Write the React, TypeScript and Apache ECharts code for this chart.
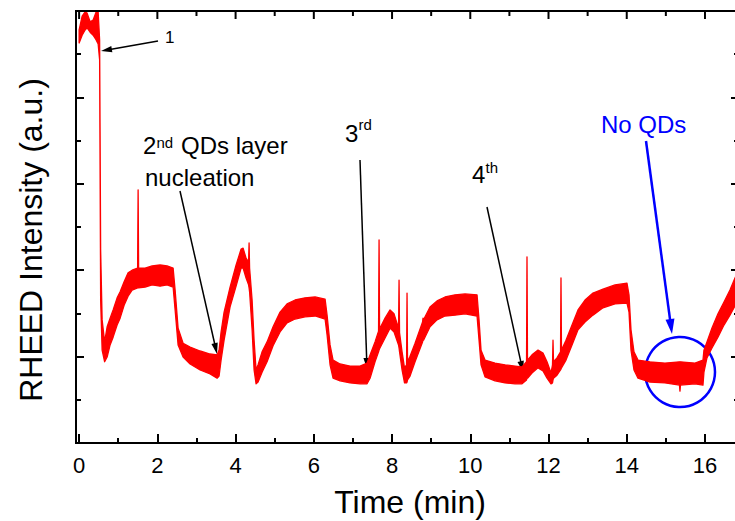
import React, { useEffect, useRef } from "react";
import * as echarts from "echarts";

// Time (min)
const time = [
  0, 0.077, 0.153, 0.204, 0.281, 0.358, 0.435, 0.486, 0.524, 0.55,
  0.588, 0.652, 0.716, 0.792, 0.869, 0.971, 1.048, 1.15, 1.252, 1.355,
  1.495, 1.508, 1.521, 1.687, 1.866, 2.07, 2.249, 2.403, 2.454, 2.53,
  2.658, 2.837, 3.093, 3.348, 3.527, 3.578, 3.629, 3.706, 3.859, 4.013,
  4.141, 4.192, 4.268, 4.332, 4.345, 4.358, 4.422, 4.473, 4.524, 4.575,
  4.677, 4.805, 4.958, 5.137, 5.316, 5.521, 5.776, 6.032, 6.288, 6.339,
  6.415, 6.492, 6.671, 6.927, 7.182, 7.361, 7.438, 7.565, 7.655, 7.668,
  7.681, 7.821, 7.949, 8.051, 8.166, 8.179, 8.192, 8.256, 8.319, 8.371,
  8.383, 8.396, 8.46, 8.588, 8.78, 8.792, 8.805, 8.971, 9.15, 9.355,
  9.61, 9.866, 10.173, 10.224, 10.275, 10.377, 10.633, 10.888, 11.144, 11.323,
  11.438, 11.45, 11.463, 11.578, 11.732, 11.859, 11.962, 12.064, 12.102, 12.115,
  12.128, 12.217, 12.307, 12.319, 12.332, 12.447, 12.601, 12.754, 12.933, 13.137,
  13.393, 13.7, 14.006, 14.058, 14.109, 14.185, 14.288, 14.594, 14.978, 15.348,
  15.361, 15.374, 15.744, 15.949, 15.974, 16.051, 16.179, 16.332, 16.486, 16.639,
  16.767, 16.869,
];

// RHEED intensity (a.u.), upper edge of the noisy trace
const upper = [
  9.56, 9.88, 9.98, 9.95, 9.75, 9.79, 9.98, 9.98, 9.33, 4.47,
  2.85, 2.34, 2.69, 2.89, 3.08, 3.36, 3.5, 3.73, 3.94, 4.0,
  4.05, 5.86, 4.05, 4.05, 4.1, 4.12, 4.1, 4.05, 3.54, 2.66,
  2.31, 2.22, 2.13, 2.06, 2.04, 2.15, 2.57, 3.03, 3.61, 4.12,
  4.49, 4.51, 4.28, 4.19, 4.63, 4.05, 3.31, 2.38, 1.69, 1.81,
  2.11, 2.34, 2.69, 3.03, 3.22, 3.31, 3.36, 3.38, 3.33, 2.96,
  2.27, 1.92, 1.83, 1.78, 1.78, 1.85, 2.04, 2.34, 2.59, 4.7,
  2.64, 2.89, 3.08, 2.99, 2.66, 3.77, 2.55, 2.11, 1.74, 1.81,
  3.47, 1.88, 2.01, 2.31, 2.8, 2.89, 2.85, 3.15, 3.29, 3.38,
  3.43, 3.45, 3.43, 2.85, 2.15, 1.92, 1.85, 1.81, 1.78, 1.76,
  1.88, 4.31, 1.92, 2.04, 2.15, 2.08, 1.88, 1.62, 1.81, 2.38,
  1.88, 1.97, 2.11, 3.82, 2.15, 2.38, 2.73, 3.08, 3.31, 3.47,
  3.56, 3.66, 3.7, 3.43, 2.62, 2.11, 1.92, 1.88, 1.85, 1.88,
  1.88, 1.88, 1.85, 1.92, 2.15, 2.34, 2.66, 2.99, 3.26, 3.54,
  3.82, 4.0,
];

// RHEED intensity (a.u.), lower edge of the noisy trace
const lower = [
  9.26, 9.44, 9.56, 9.61, 9.51, 9.44, 9.33, 9.24, 8.87, 3.31,
  2.15, 1.88, 1.99, 2.27, 2.45, 2.73, 2.89, 3.19, 3.4, 3.54,
  3.59, 3.61, 3.59, 3.61, 3.66, 3.63, 3.66, 3.61, 3.08, 2.27,
  1.99, 1.83, 1.69, 1.6, 1.5, 1.55, 1.92, 2.38, 3.15, 3.63,
  4.05, 4.05, 3.82, 3.66, 3.59, 3.5, 2.62, 1.69, 1.37, 1.41,
  1.64, 1.88, 2.25, 2.57, 2.78, 2.87, 2.92, 2.94, 2.87, 2.5,
  1.81, 1.5, 1.44, 1.39, 1.37, 1.37, 1.5, 1.88, 2.11, 2.15,
  2.18, 2.43, 2.66, 2.57, 2.27, 2.2, 2.11, 1.69, 1.39, 1.39,
  1.41, 1.46, 1.55, 1.88, 2.34, 2.38, 2.38, 2.69, 2.85, 2.94,
  2.96, 2.99, 2.94, 2.38, 1.81, 1.53, 1.44, 1.39, 1.37, 1.37,
  1.46, 1.5, 1.5, 1.62, 1.74, 1.67, 1.5, 1.37, 1.39, 1.46,
  1.5, 1.57, 1.69, 1.71, 1.74, 1.92, 2.27, 2.62, 2.8, 2.96,
  3.13, 3.22, 3.24, 3.03, 2.15, 1.69, 1.5, 1.41, 1.39, 1.34,
  1.2, 1.34, 1.37, 1.34, 1.64, 1.97, 2.2, 2.45, 2.73, 2.96,
  3.17, 3.31,
];

const xMajorTicks = [0, 2, 4, 6, 8, 10, 12, 14, 16];
const xMinorTicks = [1, 3, 5, 7, 9, 11, 13, 15];

const FONT = "'Liberation Sans', Arial, Helvetica, sans-serif";
const RED = "#ff0000";
const BLUE = "#0000ff";

const XMIN = -0.08;
const XMAX = 16.87;
const GRID_LEFT = 76;
const GRID_RIGHT = -4;
const GRID_TOP = 11;
const GRID_BOTTOM = 78;
const W = 735;
const H = 521;

function arrow(x0: number, y0: number, x1: number, y1: number, color: string, w: number, hl: number, hw: number) {
  const dx = x1 - x0;
  const dy = y1 - y0;
  const L = Math.hypot(dx, dy);
  const ux = dx / L;
  const uy = dy / L;
  const bx = x1 - ux * hl;
  const by = y1 - uy * hl;
  return [
    { type: "line", silent: true, shape: { x1: x0, y1: y0, x2: bx + ux * 2, y2: by + uy * 2 }, style: { stroke: color, lineWidth: w } },
    {
      type: "polygon",
      silent: true,
      shape: { points: [[x1, y1], [bx - uy * hw, by + ux * hw], [bx + uy * hw, by - ux * hw]] },
      style: { fill: color },
    },
  ];
}

function txt(text: string, x: number, y: number, size: number, color = "#000", extra: any = {}) {
  return {
    type: "text",
    silent: true,
    x,
    y,
    ...extra,
    style: {
      text,
      fill: color,
      fontSize: size,
      fontFamily: FONT,
      textAlign: extra.align || "left",
      align: extra.align || "left",
      textVerticalAlign: "middle",
      verticalAlign: "middle",
    },
  };
}

// Top frame of the plot box (mirror axis), positioned with the same scale as the grid
function topFrame() {
  const plotW = W - GRID_LEFT - GRID_RIGHT;
  const px = (t: number) => GRID_LEFT + ((t - XMIN) / (XMAX - XMIN)) * plotW;
  const els: any[] = [
    { type: "line", silent: true, z: 50, shape: { x1: GRID_LEFT - 1, y1: GRID_TOP, x2: W, y2: GRID_TOP }, style: { stroke: "#000", lineWidth: 2 } },
  ];
  xMajorTicks.forEach((t) =>
    els.push({ type: "line", silent: true, z: 50, shape: { x1: px(t), y1: GRID_TOP, x2: px(t), y2: GRID_TOP + 8 }, style: { stroke: "#000", lineWidth: 2 } })
  );
  xMinorTicks.forEach((t) =>
    els.push({ type: "line", silent: true, z: 50, shape: { x1: px(t), y1: GRID_TOP, x2: px(t), y2: GRID_TOP + 5 }, style: { stroke: "#000", lineWidth: 2 } })
  );
  return els;
}

function xAxisDef(position: string, ticks: number[], tickLen: number, showLine: boolean, labels: boolean) {
  return {
    type: "value",
    min: XMIN,
    max: XMAX,
    position,
    splitLine: { show: false },
    axisLine: { show: showLine, onZero: false, lineStyle: { color: "#000", width: 2 } },
    axisTick: { show: true, inside: true, length: tickLen, lineStyle: { color: "#000", width: 2 }, customValues: ticks },
    axisLabel: labels
      ? { show: true, customValues: ticks, fontSize: 22, color: "#000", fontFamily: FONT, margin: 11 }
      : { show: false },
  };
}

function yAxisDef(position: string) {
  return {
    type: "value",
    min: 0,
    max: 10,
    interval: 2,
    position,
    splitLine: { show: false },
    axisLabel: { show: false },
    axisLine: { show: true, onZero: false, lineStyle: { color: "#000", width: 2 } },
    axisTick: { show: true, inside: true, length: 8, lineStyle: { color: "#000", width: 2 } },
    minorTick: { show: true, splitNumber: 2, length: 5, lineStyle: { color: "#000", width: 2 } },
  };
}

export default function App() {
  const ref = useRef<HTMLDivElement>(null);
  useEffect(() => {
    const chart = echarts.init(ref.current!, null, { renderer: "svg" });
    const option: any = {
      animation: false,
      grid: {
        left: GRID_LEFT,
        right: GRID_RIGHT,
        top: GRID_TOP,
        bottom: GRID_BOTTOM,
        outerBoundsMode: "none",
        show: true,
        borderColor: "#000",
        borderWidth: 2,
      },
      xAxis: [
        xAxisDef("bottom", xMajorTicks, 9, true, true),
        xAxisDef("bottom", xMinorTicks, 5, false, false),
      ],
      yAxis: [yAxisDef("left"), yAxisDef("right")],
      series: [
        {
          type: "custom",
          xAxisIndex: 0,
          yAxisIndex: 0,
          clip: true,
          data: time.map((t, i) => [t, upper[i], lower[i]]),
          encode: { x: 0, y: [1, 2] },
          renderItem: (params: any, api: any) => {
            if (params.dataIndex !== 0) return null;
            const top = time.map((t, i) => api.coord([t, upper[i]]));
            const bottom = time.map((t, i) => api.coord([t, lower[i]])).reverse();
            return {
              type: "polygon",
              shape: { points: top.concat(bottom) },
              style: { fill: RED, stroke: RED, lineWidth: 1.3, lineJoin: "round" },
            };
          },
        },
      ],
      graphic: [
        ...topFrame(),
        ...arrow(158, 41, 101, 51, "#000", 1.5, 11, 3.2),
        ...arrow(180, 191, 217, 354, "#000", 1.5, 11, 3.2),
        ...arrow(360, 160, 367, 369, "#000", 1.5, 11, 3.2),
        ...arrow(487, 207, 523, 372, "#000", 1.5, 11, 3.2),
        ...arrow(646, 141, 672, 334, BLUE, 2.5, 15, 4.5),
        {
          type: "circle",
          silent: true,
          shape: { cx: 680, cy: 372, r: 35 },
          style: { fill: "none", stroke: BLUE, lineWidth: 2.5 },
        },
        txt("1", 165, 37, 17),
        txt("2", 143, 145.7, 24),
        txt("nd", 156.5, 142, 15),
        txt("QDs layer", 181, 145.7, 24),
        txt("nucleation", 145, 177.7, 24),
        txt("3", 345, 133.7, 24),
        txt("rd", 358.5, 124.5, 15),
        txt("4", 472, 174.7, 24),
        txt("th", 485.5, 167.5, 15),
        txt("No QDs", 601, 124.7, 24, BLUE),
        txt("Time (min)", 410, 502, 32, "#000", { align: "center" }),
        txt("RHEED Intensity (a.u.)", 31, 240, 32, "#000", { align: "center", rotation: Math.PI / 2 }),
      ],
    };
    chart.setOption(option);
    return () => chart.dispose();
  }, []);
  return <div ref={ref} style={{ position: "fixed", left: 0, top: 0, width: W, height: H, background: "#fff" }} />;
}
